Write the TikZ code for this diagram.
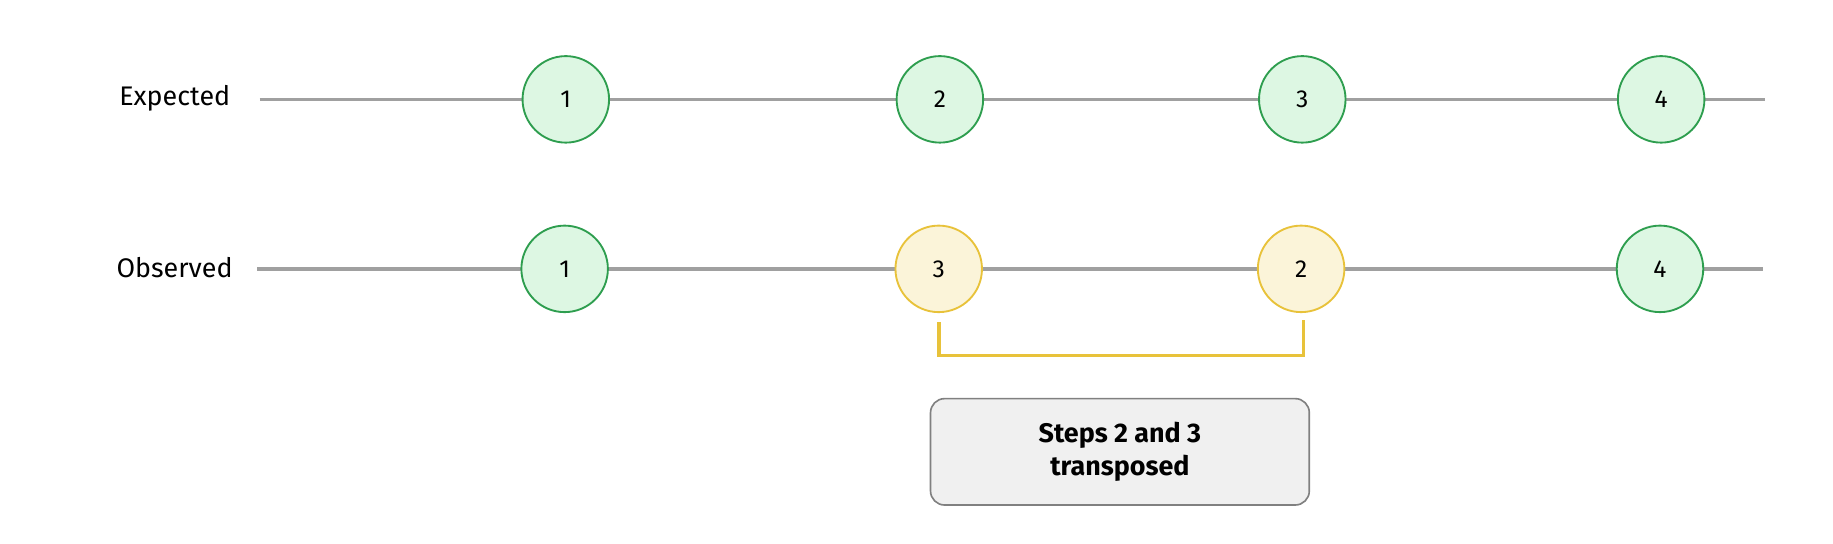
\documentclass[tikz,border=0pt]{standalone}
\usepackage{fontspec}
\setmainfont{Fira Sans}
\definecolor{gfill}{HTML}{DDF7E3}
\definecolor{gline}{HTML}{2E9E4F}
\definecolor{yfill}{HTML}{FBF4D9}
\definecolor{yline}{HTML}{E8C23A}
\definecolor{tl}{HTML}{A0A0A0}
\begin{document}
\begin{tikzpicture}[x=0.5pt,y=-0.5pt,
  ok/.style={circle,draw=gline,fill=gfill,line width=0.8pt,minimum size=37pt,inner sep=0pt,font=\fontsize{10.5}{12}\selectfont},
  bad/.style={ok,draw=yline,fill=yfill},
  tline/.style={draw=tl,line width=1.5pt},
  lbl/.style={font=\fontsize{11.5}{13}\selectfont,anchor=east}]
\useasboundingbox (0,0) rectangle (1568,465);
\node[lbl] (le) at (204,84) {Expected};
\node[lbl] (lo) at (206,229) {Observed};
\coordinate (es) at (222,85); \coordinate (ee) at (1510,85);
\coordinate (os) at (220,230); \coordinate (oe) at (1508,230);
\draw[tline] (es) -- (ee);
\draw[tline] (os) -- (oe);
\node[ok] (e1) at (484,85) {1};
\node[ok] (e2) at (804,85) {2};
\node[ok] (e3) at (1114,85) {3};
\node[ok] (e4) at (1421,85) {4};
\node[ok] (o1) at (483,230) {1};
\node[bad] (o3) at (803,230) {3};
\node[bad] (o2) at (1113,230) {2};
\node[ok] (o4) at (1420,230) {4};
\draw[yline,line width=1.6pt] (o3.south) ++(0,8) |- (1115,304) -- (1115,274);
\node[draw=gray,fill=gray!12,rounded corners=6pt,line width=0.7pt,minimum width=162pt,minimum height=45.5pt,align=center,font=\fontsize{11.5}{14}\selectfont\bfseries] (box) at (958,386.5) {Steps 2 and 3\\transposed};
\end{tikzpicture}
\end{document}
